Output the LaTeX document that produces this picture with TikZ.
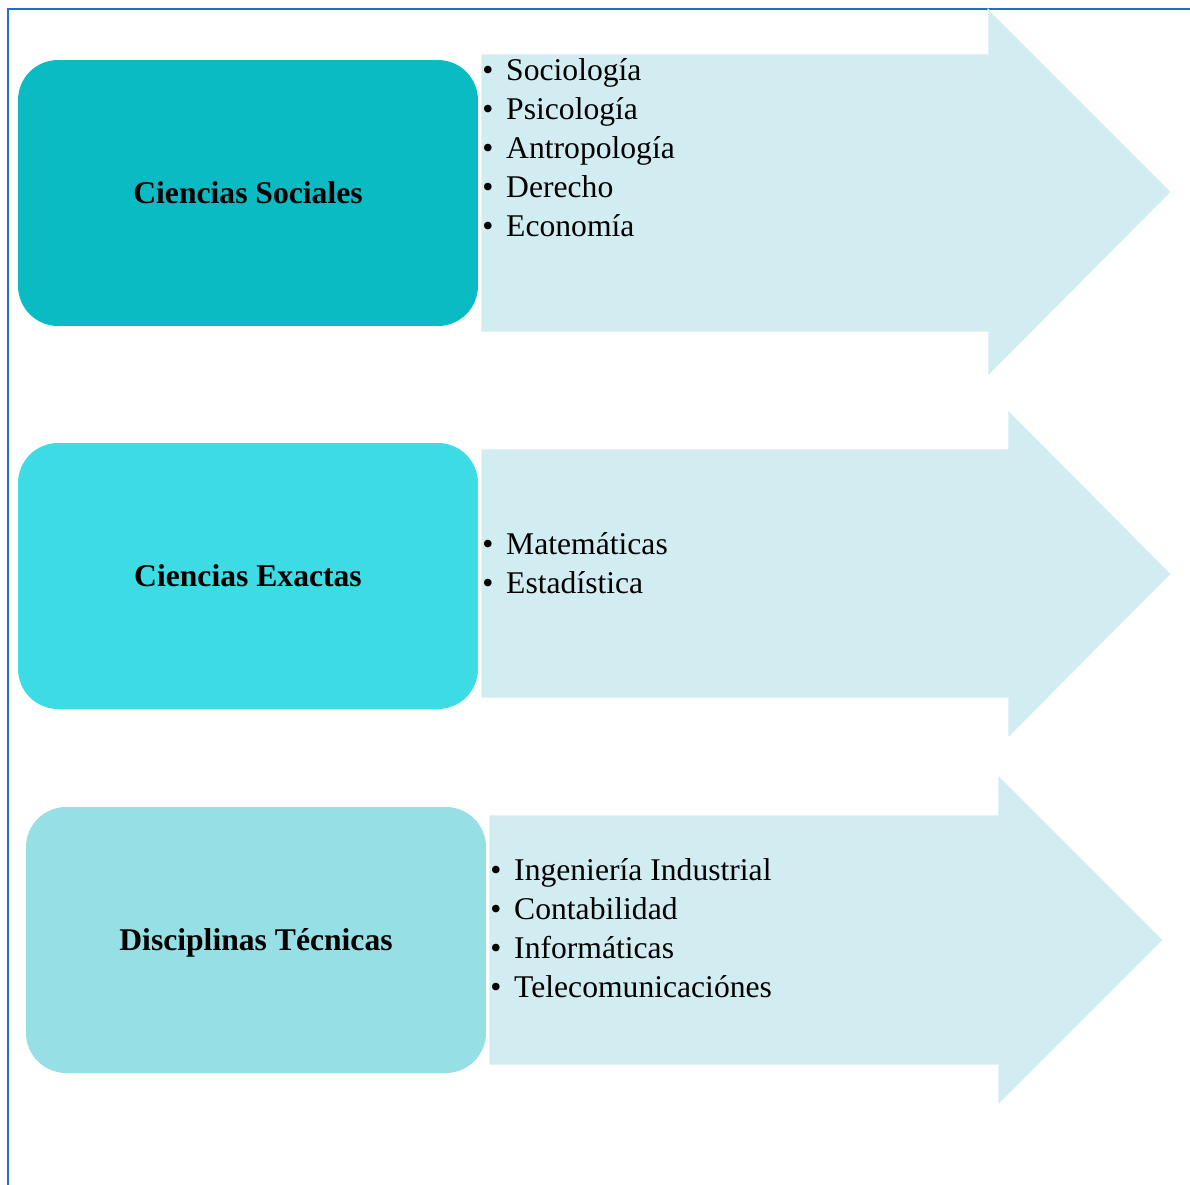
\documentclass[tikz,border=0pt]{standalone}
\usepackage{fontspec}
\setmainfont{Liberation Serif}
\usetikzlibrary{positioning}

\definecolor{frameblue}{RGB}{30,110,205}
\definecolor{sociales}{RGB}{10,187,195}
\definecolor{exactas}{RGB}{61,219,227}
\definecolor{tecnicas}{RGB}{149,223,229}
\definecolor{arrowfill}{RGB}{210,237,241}

\tikzset{
    catbox/.style={rounded corners=0.8cm, minimum width=9.2cm, minimum height=5.32cm,
        inner sep=0pt, font=\fontsize{18}{22}\selectfont\bfseries},
    bigarrow/.style={fill=arrowfill, draw=white, line width=0.4pt},
    listtext/.style={anchor=west, align=left, inner sep=0pt,
        font=\fontsize{18}{22.2}\selectfont},
    frameline/.style={draw=frameblue, line width=1.6pt}
}

\newcommand{\itm}{\textbullet\hspace{7.3pt}}

\begin{document}
\begin{tikzpicture}[x=0.02cm, y=-0.02cm]

    \useasboundingbox (0,0) rectangle (1190,1185);

    % Frame lines, top and left
    \draw[frameline] (1190,9) -- (8,9) -- (8,1185);

    % Make the arrows
    \fill[bigarrow] (481,54) -- (988,54) -- (988,9) -- (1171,192) -- (988,376)
        -- (988,332) -- (481,332) -- cycle;
    \fill[bigarrow] (481,449) -- (1008,449) -- (1008,410) -- (1171,574) -- (1008,738)
        -- (1008,698) -- (481,698) -- cycle;
    \fill[bigarrow] (489,815) -- (998,815) -- (998,775) -- (1163,940) -- (998,1105)
        -- (998,1065) -- (489,1065) -- cycle;

    % Make the category boxes
    \node[catbox, fill=sociales] (sociales) at (248,193) {Ciencias Sociales};
    \node[catbox, fill=exactas] (exactas) at (248,576) {Ciencias Exactas};
    \node[catbox, fill=tecnicas, text depth=0pt] (tecnicas) at (256,940) {Disciplinas Técnicas};

    % Make the lists
    \node[listtext] (listsociales) at (482,148) {\itm Sociología\\ \itm Psicología\\
        \itm Antropología\\ \itm Derecho\\ \itm Economía};
    \node[listtext] (listexactas) at (482,563) {\itm Matemáticas\\ \itm Estadística};
    \node[listtext] (listtecnicas) at (490,928) {\itm Ingeniería Industrial\\
        \itm Contabilidad\\ \itm Informáticas\\ \itm Telecomunicaciónes};

\end{tikzpicture}
\end{document}
